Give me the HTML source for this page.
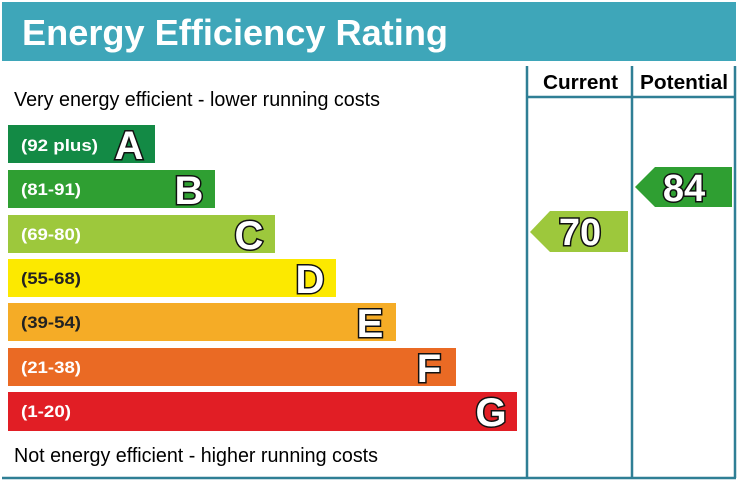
<!DOCTYPE html><html><head><style>body{margin:0;background:#fff}svg{display:block}</style></head><body>
<svg width="738" height="483" xmlns="http://www.w3.org/2000/svg" font-family="Liberation Sans, Arial, sans-serif">
<rect x="2" y="2" width="734" height="59" fill="#3ea6b9"/>
<text x="22" y="45" font-size="36" font-weight="bold" fill="#fff" textLength="426" lengthAdjust="spacingAndGlyphs">Energy Efficiency Rating</text>
<g stroke="#2f7f95" stroke-width="2.5" fill="none">
<line x1="527" y1="66" x2="527" y2="478"/><line x1="632" y1="66" x2="632" y2="478"/><line x1="735" y1="66" x2="735" y2="478"/>
<line x1="527" y1="97" x2="735" y2="97"/><line x1="2" y1="478" x2="736" y2="478"/>
</g>
<text x="543" y="89" font-size="20" font-weight="bold" textLength="75" lengthAdjust="spacingAndGlyphs">Current</text>
<text x="640" y="89" font-size="20" font-weight="bold" textLength="88" lengthAdjust="spacingAndGlyphs">Potential</text>
<text x="14" y="106" font-size="20" textLength="366" lengthAdjust="spacingAndGlyphs">Very energy efficient - lower running costs</text>
<text x="14" y="462" font-size="20" textLength="364" lengthAdjust="spacingAndGlyphs">Not energy efficient - higher running costs</text>
<rect x="8" y="125" width="147" height="38" fill="#138a45"/>
<rect x="8" y="170" width="207" height="38" fill="#2f9f32"/>
<rect x="8" y="215" width="267" height="38" fill="#9dc83c"/>
<rect x="8" y="259" width="328" height="38" fill="#fce900"/>
<rect x="8" y="303" width="388" height="38" fill="#f5ac26"/>
<rect x="8" y="348" width="448" height="38" fill="#ea6a24"/>
<rect x="8" y="392" width="509" height="39" fill="#e11e25"/>
<g font-size="17" font-weight="bold" fill="#fff">
<text x="21" y="151" textLength="77" lengthAdjust="spacingAndGlyphs">(92 plus)</text>
<text x="21" y="195" textLength="60" lengthAdjust="spacingAndGlyphs">(81-91)</text>
<text x="21" y="240" textLength="60" lengthAdjust="spacingAndGlyphs">(69-80)</text>
<text x="21" y="284" fill="#222" textLength="60" lengthAdjust="spacingAndGlyphs">(55-68)</text>
<text x="21" y="328" fill="#222" textLength="60" lengthAdjust="spacingAndGlyphs">(39-54)</text>
<text x="21" y="373" textLength="60" lengthAdjust="spacingAndGlyphs">(21-38)</text>
<text x="21" y="417" textLength="50" lengthAdjust="spacingAndGlyphs">(1-20)</text>
</g>
<g font-size="40" font-weight="bold" fill="#fff" stroke="#111" stroke-width="3" paint-order="stroke" text-anchor="middle">
<text x="129" y="159">A</text><text x="189" y="204">B</text><text x="249" y="249">C</text><text x="310" y="293">D</text><text x="370" y="337">E</text><text x="429" y="382">F</text><text x="491" y="426">G</text>
</g>
<polygon points="530,232 550,211 628,211 628,252 550,252" fill="#9dc83c"/>
<polygon points="635,187 655,167 732,167 732,207 655,207" fill="#2f9f32"/>
<g font-size="38" font-weight="bold" fill="#fff" stroke="#111" stroke-width="3" paint-order="stroke" text-anchor="middle">
<text x="580" y="245">70</text><text x="684" y="201">84</text>
</g>
</svg></body></html>
